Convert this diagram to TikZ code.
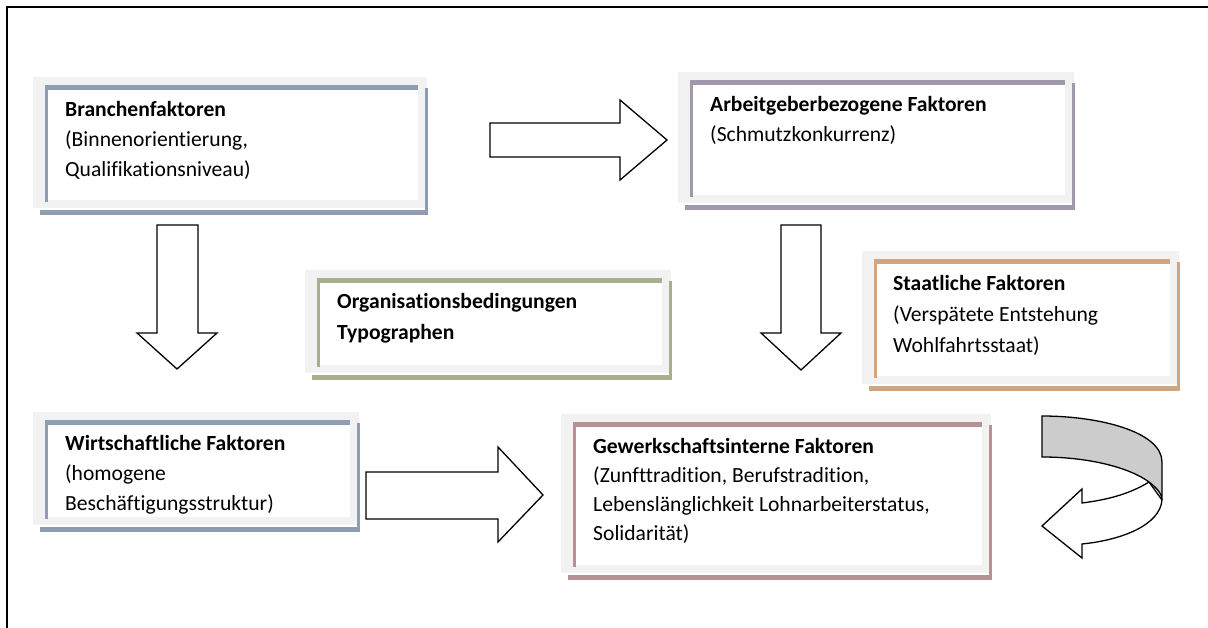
\documentclass[tikz,border=0pt]{standalone}
\usepackage{fontspec}
\setmainfont{Carlito}[Ligatures=NoCommon]
\definecolor{backdrop}{RGB}{242,242,242}
\definecolor{bluegrey}{RGB}{142,157,178}
\definecolor{purplegrey}{RGB}{162,152,174}
\definecolor{olivegrey}{RGB}{166,175,142}
\definecolor{tan}{RGB}{208,165,132}
\definecolor{rosegrey}{RGB}{182,146,148}
\definecolor{ribbon}{RGB}{204,204,204}

% #1 name, #2..#5 inner white area (x1,y1,x2,y2), #6 frame colour
\newcommand\factorbox[6]{%
  \fill[backdrop] (#2-15,#3-13) rectangle (#4+9,#5+8);
  \fill[#6] (#4+7,#3-2) rectangle (#4+10,#5+15);
  \fill[#6] (#2-8,#5+10) rectangle (#4+10,#5+15);
  \fill[white] (#2,#3) rectangle (#4,#5);
  \fill[#6] (#2-3,#3-5) rectangle (#4,#3);
  \fill[#6] (#2-3,#3-5) rectangle (#2,#5+2);
  \coordinate (#1) at (#2,#3);
}

\tikzset{
  boxtext/.style={anchor=north west, inner sep=0pt, align=left,
    font=\fontsize{21.6}{30}\selectfont},
  blockarrow/.style={draw=black, line width=1.3pt, fill=white, line join=miter},
}

\begin{document}
\begin{tikzpicture}[x=1pt, y=-1pt]
\useasboundingbox (0,0) rectangle (1208,628);

% frame of the page
\draw[line width=2pt] (7,628) -- (7,7) -- (1208,7);

% factor boxes
\factorbox{bra}{48}{90}{418}{200}{bluegrey}
\factorbox{arb}{693}{85}{1065}{195}{purplegrey}
\factorbox{org}{320}{283}{662}{365}{olivegrey}
\factorbox{sta}{877}{264}{1170}{376}{tan}
\factorbox{wir}{48}{425}{350}{517}{bluegrey}
\factorbox{gew}{576}{427}{982}{565}{rosegrey}

\node[boxtext] (braT) at ([shift={(17,11)}]bra)
  {\textbf{Branchenfaktoren}\\(Binnenorientierung,\\Qualifikationsniveau)};
\node[boxtext] (arbT) at ([shift={(17,11)}]arb)
  {\textbf{Arbeitgeberbezogene Faktoren}\\(Schmutzkonkurrenz)};
\node[boxtext, font=\fontsize{21.6}{31}\selectfont] (orgT) at ([shift={(17,10)}]org)
  {\textbf{Organisationsbedingungen}\\\textbf{Typographen}};
\node[boxtext, font=\fontsize{21.6}{31}\selectfont] (staT) at ([shift={(16,11)}]sta)
  {\textbf{Staatliche Faktoren}\\(Verspätete Entstehung\\Wohlfahrtsstaat)};
\node[boxtext] (wirT) at ([shift={(17,10)}]wir)
  {\textbf{Wirtschaftliche Faktoren}\\(homogene\\Beschäftigungsstruktur)};
\node[boxtext, font=\fontsize{21.6}{29}\selectfont] (gewT) at ([shift={(17,11)}]gew)
  {\textbf{Gewerkschaftsinterne Faktoren}\\(Zunfttradition, Berufstradition,\\Lebenslänglichkeit Lohnarbeiterstatus,\\Solidarität)};

% block arrows
\draw[blockarrow] (490,123) -- (620,123) -- (620,100) -- (667,140)
  -- (620,180) -- (620,157) -- (490,157) -- cycle;
\draw[blockarrow] (366,472) -- (498,472) -- (498,447) -- (543,495)
  -- (498,542) -- (498,519) -- (366,519) -- cycle;
\draw[blockarrow] (157,225) -- (198,225) -- (198,333) -- (217,333)
  -- (177,369) -- (137,333) -- (157,333) -- cycle;
\draw[blockarrow] (781,225) -- (821,225) -- (821,333) -- (841,333)
  -- (801,370) -- (761,333) -- (781,333) -- cycle;

% curved feedback arrow
\draw[blockarrow] (1149,482) .. controls (1128,495) and (1105,500) .. (1082,503)
  -- (1082,489) -- (1042,526) -- (1082,558) -- (1082,544)
  .. controls (1122,540) and (1160,525) .. (1162,500) -- cycle;
\draw[blockarrow, fill=ribbon] (1042,416) .. controls (1100,416) and (1162,432) .. (1162,462)
  -- (1162,500) .. controls (1162,494) and (1157,488) .. (1149,482)
  .. controls (1130,468) and (1090,457) .. (1042,457) -- cycle;
\end{tikzpicture}
\end{document}
